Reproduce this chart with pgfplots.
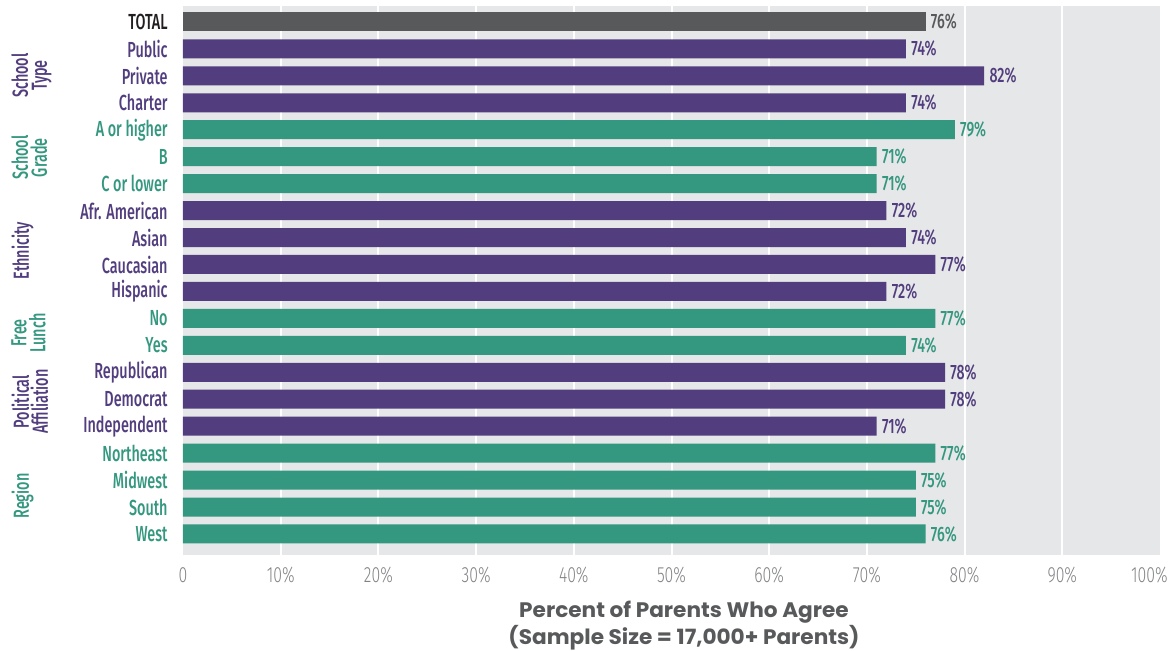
\documentclass[border=0pt]{standalone}
\usepackage{fontspec}
\setmainfont{Fira Sans}
\newfontfamily\labfont[FakeStretch=0.66]{Fira Sans Medium}
\newfontfamily\valfont[FakeStretch=0.68]{Fira Sans Medium}
\newfontfamily\tickfont[FakeStretch=0.72]{Fira Sans Light}
\newfontfamily\titlefont[FakeStretch=1.03]{Poppins}
\usepackage{pgfplots}
\pgfplotsset{compat=1.18}
\usetikzlibrary{calc}

\definecolor{bgc}{HTML}{E6E7E8}
\definecolor{totbar}{HTML}{58595B}
\definecolor{totlab}{HTML}{231F20}
\definecolor{pur}{HTML}{523E7E}
\definecolor{grn}{HTML}{34977F}
\definecolor{tickc}{HTML}{808285}

\begin{document}
\begin{tikzpicture}
    \begin{axis}[
        scale only axis,
        width=488.5pt,
        height=274.5pt,
        xmin=0, xmax=100,
        ymin=-0.59, ymax=19.78,
        y dir=reverse,
        axis background/.style={fill=bgc},
        axis line style={draw=none},
        major tick length=0pt,
        xtick={10,20,...,90},
        xticklabels={10\%,20\%,30\%,40\%,50\%,60\%,70\%,80\%,90\%},
        extra x ticks={0},
        extra x tick labels={0},
        extra x tick style={grid=none},
        xmajorgrids,
        grid style={white, line width=1pt},
        xticklabel style={font=\tickfont\fontsize{11}{13}\selectfont, text=tickc,
            inner sep=0pt, anchor=north, yshift=-6pt},
        ytick={0,...,19},
        yticklabels={
            \textcolor{totlab}{TOTAL},
            \textcolor{pur}{Public},
            \textcolor{pur}{Private},
            \textcolor{pur}{Charter},
            \textcolor{grn}{A or higher},
            \textcolor{grn}{B},
            \textcolor{grn}{C or lower},
            \textcolor{pur}{Afr. American},
            \textcolor{pur}{Asian},
            \textcolor{pur}{Caucasian},
            \textcolor{pur}{Hispanic},
            \textcolor{grn}{No},
            \textcolor{grn}{Yes},
            \textcolor{pur}{Republican},
            \textcolor{pur}{Democrat},
            \textcolor{pur}{Independent},
            \textcolor{grn}{Northeast},
            \textcolor{grn}{Midwest},
            \textcolor{grn}{South},
            \textcolor{grn}{West}},
        yticklabel style={font=\labfont\fontsize{10.9}{12}\selectfont,
            inner sep=0pt, anchor=east, xshift=-7.5pt},
        xbar,
        bar width=9.5pt,
        nodes near coords={\pgfplotspointmeta\%},
        point meta=explicit symbolic,
        nodes near coords style={font=\valfont\fontsize{10.4}{12}\selectfont,
            anchor=west, inner sep=0pt, xshift=2.5pt},
        every axis plot/.append style={draw=none, bar shift=0pt},
        clip=false,
    ]

    \addplot[fill=totbar, nodes near coords style={text=totbar}]
        coordinates {(76,0) [76]};

    \addplot[fill=pur, nodes near coords style={text=pur}]
        coordinates {
            (74,1) [74]
            (82,2) [82]
            (74,3) [74]
            (72,7) [72]
            (74,8) [74]
            (77,9) [77]
            (72,10) [72]
            (78,13) [78]
            (78,14) [78]
            (71,15) [71]
        };

    \addplot[fill=grn, nodes near coords style={text=grn}]
        coordinates {
            (79,4) [79]
            (71,5) [71]
            (71,6) [71]
            (77,11) [77]
            (74,12) [74]
            (77,16) [77]
            (75,17) [75]
            (75,18) [75]
            (76,19) [76]
        };

    % last tick label pulled in so that it stays on the page
    \node[anchor=north east, inner sep=0pt, text=tickc,
        font=\tickfont\fontsize{11}{13}\selectfont]
        at ($(axis cs:100,19.78)+(4pt,-6pt)$) {100\%};

    % group names, rotated, at the far left
    \begin{scope}[every node/.style={rotate=90, anchor=north, align=center,
            inner sep=0pt, font=\labfont\fontsize{10.9}{9.5}\selectfont}]
        \node[text=pur] at ($(axis cs:0,1.4)+(-86pt,0)$) {School\\Type};
        \node[text=grn] at ($(axis cs:0,4.45)+(-86pt,0)$) {School\\Grade};
        \node[text=pur] at ($(axis cs:0,7.9)+(-86pt,0)$) {Ethnicity};
        \node[text=grn] at ($(axis cs:0,10.95)+(-86pt,0)$) {Free\\Lunch};
        \node[text=pur] at ($(axis cs:0,13.5)+(-86pt,0)$) {Political\\Affiliation};
        \node[text=grn] at ($(axis cs:0,17)+(-86pt,0)$) {Region};
    \end{scope}

    \node[anchor=north, align=center, inner sep=0pt, text=totbar,
        font=\titlefont\bfseries\fontsize{10.5}{11.6}\selectfont]
        at ($(axis cs:0,19.78)+(250.5pt,-23pt)$)
        {Percent of Parents Who Agree\\(Sample Size = 17,000+ Parents)};

    \coordinate (bl) at (axis cs:0,19.78);
    \end{axis}
    \pgfresetboundingbox
    \path ($(bl)+(-91.5pt,-47.5pt)$) rectangle ($(bl)+(493.5pt,277.5pt)$);
\end{tikzpicture}
\end{document}
